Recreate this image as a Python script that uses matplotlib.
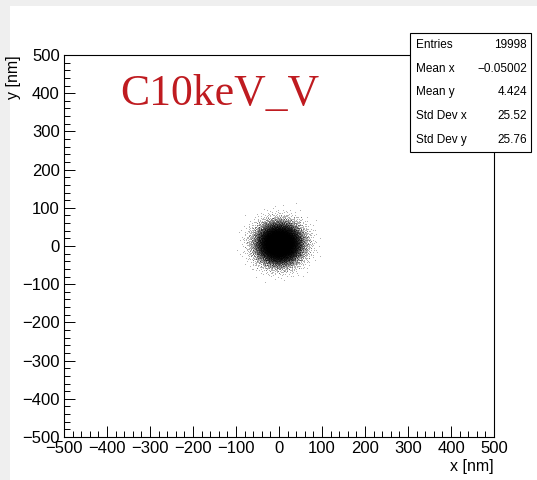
import numpy as np
import matplotlib
matplotlib.use('Agg')
import matplotlib.pyplot as plt
from matplotlib.patches import Rectangle
from matplotlib.ticker import MultipleLocator

# summary numbers shown in the stats box
entries = 19998
mean_x, mean_y = -0.05002, 4.424
std_x, std_y = 25.52, 25.76
stat_names = ['Entries', 'Mean x', 'Mean y', 'Std Dev x', 'Std Dev y']
stat_values = ['19998', '\u22120.05002', '4.424', '25.52', '25.76']
title = 'C10keV_V'


def halton(n, base):
    # van der Corput sequence in the given base
    idx = np.arange(1, n + 1)
    out = np.zeros(n)
    f = 1.0 / base
    while np.any(idx > 0):
        out += f * (idx % base)
        idx = idx // base
        f /= base
    return out


# deterministic point cloud built from the box values (Box-Muller on a Halton set)
u1 = halton(entries, 2)
u2 = halton(entries, 3)
r = np.sqrt(-2.0 * np.log(1.0 - u1 * 0.99999))
px = r * np.cos(2 * np.pi * u2)
py = r * np.sin(2 * np.pi * u2)
px = (px - px.mean()) / px.std() * std_x + mean_x
py = (py - py.mean()) / py.std() * std_y + mean_y

plt.rcParams['font.family'] = ['Liberation Sans', 'DejaVu Sans']

fig = plt.figure(figsize=(5.37, 4.8), dpi=100, facecolor='#efefef')
fig.patches.append(Rectangle((10 / 537, 0), 1, 1 - 6 / 480, transform=fig.transFigure,
                             facecolor='white', edgecolor='none', zorder=-10))

ax = fig.add_axes([64 / 537, 1 - 437 / 480, 430 / 537, 382 / 480])
ax.plot(px, py, ',', color='black', alpha=0.3)
ax.set_xlim(-500, 500)
ax.set_ylim(-500, 500)

for s in ax.spines.values():
    s.set_linewidth(0.8)
ax.xaxis.set_major_locator(MultipleLocator(100))
ax.yaxis.set_major_locator(MultipleLocator(100))
ax.xaxis.set_minor_locator(MultipleLocator(20))
ax.yaxis.set_minor_locator(MultipleLocator(20))
ax.tick_params(which='both', direction='in', top=False, right=False, width=0.7,
               labelsize=12)
ax.tick_params(which='major', length=8, pad=3)
ax.tick_params(which='minor', length=4)

ax.set_xlabel('x [nm]', loc='right', fontsize=11.5, labelpad=2)
ax.set_ylabel('y [nm]', loc='top', fontsize=11.5, labelpad=1)

fig.text(120 / 537, 1 - 105 / 480, title, family='Liberation Serif', fontsize=31.5,
         color='#bf1b20', va='baseline')

# stats box
bx0, bx1 = 410 / 537, 531 / 537
by0, by1 = 1 - 152 / 480, 1 - 33 / 480
fig.patches.append(Rectangle((bx0, by0), bx1 - bx0, by1 - by0, transform=fig.transFigure,
                             facecolor='white', edgecolor='black', linewidth=0.8, zorder=5))
row_h = (by1 - by0) / len(stat_names)
for i, (name, val) in enumerate(zip(stat_names, stat_values)):
    yy = by1 - row_h * (i + 0.5)
    fig.text(416 / 537, yy, name, fontsize=8.5, va='center', ha='left', zorder=6)
    fig.text(527 / 537, yy, val, fontsize=8.5, va='center', ha='right', zorder=6)

fig.savefig('out.png', dpi=100, facecolor=fig.get_facecolor())
